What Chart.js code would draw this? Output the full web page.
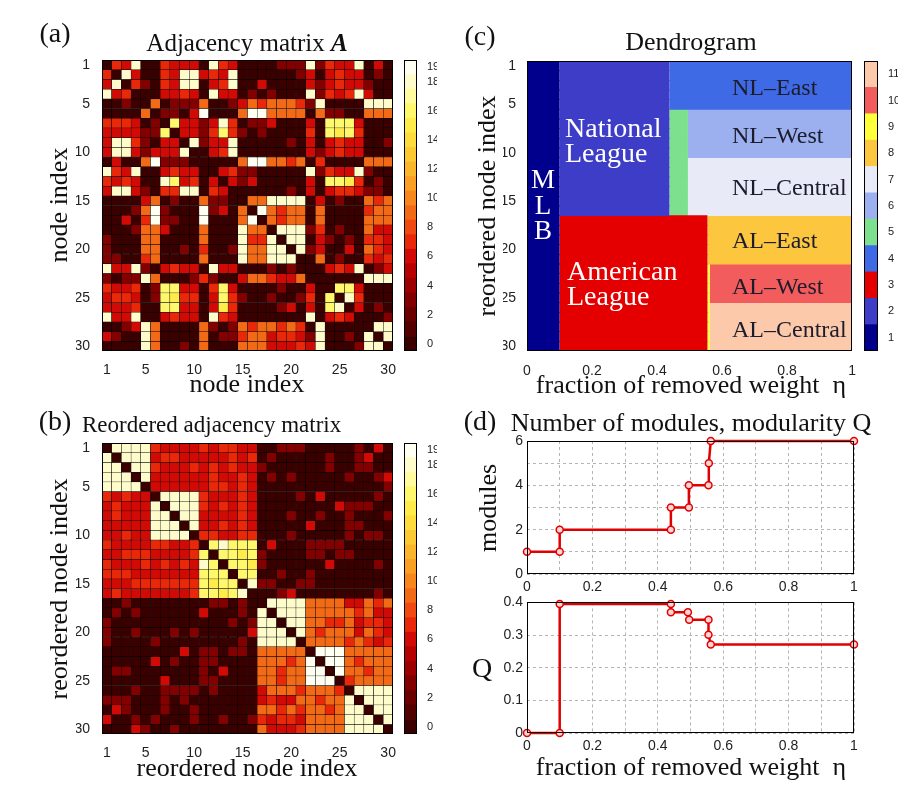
<!DOCTYPE html>
<html>
<head>
<meta charset="utf-8">
<script src="https://cdn.jsdelivr.net/npm/chart.js@4.4.0/dist/chart.umd.min.js"></script>
<style>
body { margin: 0; background: #fff; }
#fig { position: relative; width: 921px; height: 791px; overflow: hidden; font-family: 'Liberation Serif', 'Times New Roman', serif; color: #111; }
canvas { position: absolute; }
.t { position: absolute; white-space: nowrap; line-height: 1; transform: translate(-50%, -50%); }
.t.v { transform: translate(-50%, -50%) rotate(-90deg); }
.l { position: absolute; white-space: nowrap; line-height: 1; transform: translateY(-50%); }
</style>
</head>
<body>
<div id="fig">
  <canvas id="matA" width="400" height="400" style="left:0;top:0"></canvas>
  <canvas id="barA" width="40" height="400" style="left:400px;top:0"></canvas>
  <canvas id="matB" width="400" height="391" style="left:0;top:400px"></canvas>
  <canvas id="barB" width="40" height="391" style="left:400px;top:400px"></canvas>
  <canvas id="dendro" width="420" height="400" style="left:440px;top:0"></canvas>
  <canvas id="barC" width="61" height="400" style="left:860px;top:0"></canvas>
  <canvas id="mods" width="481" height="200" style="left:440px;top:400px"></canvas>
  <canvas id="modQ" width="481" height="201" style="left:440px;top:590px"></canvas>

  <div class="t" style="left:55px;top:33px;font-size:28px">(a)</div>
  <div class="t" style="left:247px;top:42px;font-size:25px">Adjacency matrix <b><i>A</i></b></div>
  <div class="t v" style="left:59px;top:205px;font-size:26px">node index</div>
  <div class="t" style="left:247px;top:384px;font-size:26px">node index</div>

  <div class="t" style="left:55px;top:421px;font-size:28px">(b)</div>
  <div class="l" style="left:82px;top:424px;font-size:23px">Reordered adjacency matrix</div>
  <div class="t v" style="left:59px;top:589px;font-size:26px">reordered node index</div>
  <div class="t" style="left:247px;top:768px;font-size:26px">reordered node index</div>

  <div class="t" style="left:480px;top:36px;font-size:28px">(c)</div>
  <div class="t" style="left:691px;top:42px;font-size:26px">Dendrogram</div>
  <div class="t v" style="left:487px;top:206px;font-size:26px">reordered node index</div>
  <div class="t" style="left:691px;top:385px;font-size:26px">fraction of removed weight&nbsp; η</div>

  <div class="t" style="left:543px;top:179px;font-size:27px;color:#fff">M</div>
  <div class="t" style="left:543px;top:205px;font-size:27px;color:#fff">L</div>
  <div class="t" style="left:543px;top:230px;font-size:27px;color:#fff">B</div>
  <div class="l" style="left:565px;top:128px;font-size:28px;color:#fff">National</div>
  <div class="l" style="left:565px;top:153px;font-size:28px;color:#fff">League</div>
  <div class="l" style="left:567px;top:271px;font-size:28px;color:#fff">American</div>
  <div class="l" style="left:567px;top:296px;font-size:28px;color:#fff">League</div>
  <div class="l" style="left:732px;top:87px;font-size:24px;color:#1c1c2c">NL–East</div>
  <div class="l" style="left:732px;top:135px;font-size:24px;color:#1c1c2c">NL–West</div>
  <div class="l" style="left:732px;top:187px;font-size:24px;color:#1c1c2c">NL–Central</div>
  <div class="l" style="left:732px;top:240px;font-size:24px;color:#1c1c2c">AL–East</div>
  <div class="l" style="left:732px;top:286px;font-size:24px;color:#1c1c2c">AL–West</div>
  <div class="l" style="left:732px;top:329px;font-size:24px;color:#1c1c2c">AL–Central</div>

  <div class="t" style="left:480px;top:421px;font-size:28px">(d)</div>
  <div class="t" style="left:691px;top:423px;font-size:26px">Number of modules, modularity Q</div>
  <div class="t v" style="left:488px;top:508px;font-size:26px">modules</div>
  <div class="t" style="left:482px;top:668px;font-size:28px">Q</div>
  <div class="t" style="left:691px;top:767px;font-size:26px">fraction of removed weight&nbsp; η</div>
</div>

<script>
// node numbers and the ones that get a tick label
const nodeIndex = Array.from({ length: 30 }, (_, i) => i + 1);
const nodeTicks = [1, 5, 10, 15, 20, 25, 30];

// adjacency matrix A, upper triangle only; row i lists columns i+1..30
// one base-36 digit per cell (0-9, a=10 ... j=19)
const adjUpper = [
    "76i0076660i760000333i3766i060",
    "i60076ii676i0000003606766030",
    "73076ii067i00600006367663" + "00",
    "0066760i660303000i3767i600",
    "90333900369799973i0000iii",
    "3306j0009jj9999093300999",
    "g6636i7033600060ggg6000",
    "6637g7303000070gfg7000",
    "i366i00000306067660" + "03",
    "067i0000000636766000",
    "0009jj9979070000999",
    "673300000i3766i300",
    "636000006" + "0ggf7030",
    "0000030606776330",
    "99iiii060300979",
    "j97990900007" + "99",
    "9799090000999",
    "iii370300966",
    "ii063030776",
    "i360060976",
    "090300767",
    "0676i036",
    "0000iii",
    "gg6000",
    "i7000",
    "6030",
    "003",
    "ii",
    "i"
];

// order of the nodes in panel (b): NL-East, NL-West, NL-Central, AL-East, AL-West, AL-Central
const reorder = [1, 4, 12, 22, 27, 2, 3, 9, 10, 14, 7, 8, 13, 24, 25, 26,
                 15, 18, 19, 20, 21, 6, 11, 16, 17, 5, 23, 28, 29, 30];

// colour for 0..19 games
const heatColors = ['#3a0000', '#520000', '#6a0000', '#830000', '#9c0000', '#b60202', '#d20a06',
                    '#e9280a', '#f04a10', '#f36a16', '#f7871c', '#f99f24', '#fbb52c', '#fcc934',
                    '#fedc3e', '#ffec4a', '#fff76c', '#fffb9e', '#fffccc', '#fffff2'];
const heatTicks = [0, 2, 4, 6, 8, 10, 12, 14, 16, 18, 19];

// dendrogram blocks (rows = reordered node index, x = fraction of removed weight)
const blockLevel = [1, 2, 3, 4, 5, 6, 7, 8, 9, 10, 11];
const blockFrom = [0, 0.1, 0.1, 0.438, 0.438, 0.495, 0.495, 0.555, 0.555, 0.562, 0.562];
const blockTo = [0.1, 0.438, 0.555, 1, 0.495, 1, 1, 1, 0.562, 1, 1];
const blockFirstRow = [1, 1, 17, 1, 6, 6, 11, 17, 22, 22, 26];
const blockLastRow = [30, 16, 30, 5, 16, 10, 16, 21, 30, 25, 30];
const dendroColors = ['#00008c', '#3d3dc8', '#e40000', '#3f6ae6', '#7ce08e', '#9cb0f0',
                      '#e8eaf8', '#fcc63e', '#ffff3a', '#f25c5c', '#fcc9aa'];
const dendroTicks = [1, 2, 3, 4, 5, 6, 7, 8, 9, 10, 11];

// panel (d)
const modX = [0, 0.1, 0.1, 0.44, 0.44, 0.495, 0.495, 0.555, 0.556, 0.562, 1];
const modY = [1, 1, 2, 2, 3, 3, 4, 4, 5, 6, 6];
const qX = [0, 0.1, 0.1, 0.44, 0.44, 0.492, 0.496, 0.555, 0.555, 0.562, 1];
const qY = [0, 0, 0.395, 0.395, 0.370, 0.370, 0.347, 0.347, 0.301, 0.271, 0.271];

// build symmetric matrices
const adj = nodeIndex.map(() => new Array(30).fill(0));
adjUpper.forEach((s, i) => {
    for (let k = 0; k < s.length && i + 1 + k < 30; k++) {
        const j = i + 1 + k;
        const v = parseInt(s[k], 36);
        adj[i][j] = v;
        adj[j][i] = v;
    }
});
const adjReordered = reorder.map(r => reorder.map(c => adj[r - 1][c - 1]));

const tickFont = { family: "'Liberation Sans', Arial, sans-serif", size: 14 };
const smallFont = { family: "'Liberation Sans', Arial, sans-serif", size: 11 };
const tickColor = '#222';
const red = '#e10000';

// black frame round the plot area
const boxPlugin = {
    id: 'box',
    afterDraw(chart) {
        const { ctx, chartArea: a } = chart;
        ctx.save();
        ctx.strokeStyle = '#000';
        ctx.lineWidth = 1;
        ctx.strokeRect(Math.round(a.left) + 0.5, Math.round(a.top) + 0.5,
                       Math.round(a.right - a.left) - 1, Math.round(a.bottom - a.top) - 1);
        ctx.restore();
    }
};

const baseOptions = (pad) => ({
    responsive: false,
    animation: false,
    events: [],
    layout: { padding: pad },
    plugins: { legend: { display: false }, tooltip: { enabled: false } }
});

const nodeLabel = (v, i) => nodeTicks.includes(i + 1) ? String(i + 1) : '';

function matrixChart(id, mat, pad) {
    new Chart(document.getElementById(id), {
        type: 'bar',
        data: {
            labels: nodeIndex,
            datasets: mat.map((row, i) => ({
                data: row.map(() => [i + 0.5, i + 1.5]),
                backgroundColor: row.map(v => heatColors[v]),
                borderColor: '#000',
                borderWidth: 0.5,
                borderSkipped: false,
                grouped: false,
                barPercentage: 1,
                categoryPercentage: 1
            }))
        },
        options: {
            ...baseOptions(pad),
            scales: {
                x: {
                    grid: { display: false },
                    border: { display: false },
                    ticks: { autoSkip: false, maxRotation: 0, padding: 3, font: tickFont, color: tickColor, callback: nodeLabel },
                    afterFit: s => { s.height = 24; }
                },
                y: {
                    type: 'linear',
                    reverse: true,
                    min: 0.5,
                    max: 30.5,
                    grid: { display: false },
                    border: { display: false },
                    afterBuildTicks: s => { s.ticks = nodeTicks.map(v => ({ value: v })); },
                    ticks: { padding: 4, font: tickFont, color: tickColor },
                    afterFit: s => { s.width = 26; }
                }
            }
        },
        plugins: [boxPlugin]
    });
}

function colorbarChart(id, colors, first, tickVals, pad) {
    new Chart(document.getElementById(id), {
        type: 'bar',
        data: {
            labels: [''],
            datasets: colors.map((c, k) => ({
                data: [[first + k - 0.5, first + k + 0.5]],
                backgroundColor: c,
                borderWidth: 0,
                grouped: false,
                barPercentage: 1,
                categoryPercentage: 1
            }))
        },
        options: {
            ...baseOptions(pad),
            scales: {
                x: { display: false },
                y: {
                    type: 'linear',
                    position: 'right',
                    min: first - 0.5,
                    max: first + colors.length - 0.5,
                    grid: { display: false },
                    border: { display: false },
                    afterBuildTicks: s => { s.ticks = tickVals.map(v => ({ value: v })); },
                    ticks: { padding: 2, font: smallFont, color: tickColor },
                    afterFit: s => { s.width = 20; }
                }
            }
        },
        plugins: [boxPlugin]
    });
}

// (a) and (b)
matrixChart('matA', adj, { left: 76, top: 60, right: 7, bottom: 25 });
colorbarChart('barA', heatColors, 0, heatTicks, { left: 4, top: 60, right: 3, bottom: 49 });
matrixChart('matB', adjReordered, { left: 76, top: 43, right: 7, bottom: 33 });
colorbarChart('barB', heatColors, 0, heatTicks, { left: 4, top: 43, right: 3, bottom: 57 });

// (c) dendrogram
new Chart(document.getElementById('dendro'), {
    type: 'bar',
    data: {
        labels: nodeIndex,
        datasets: blockLevel.map((lev, b) => ({
            data: nodeIndex.map(r => (r >= blockFirstRow[b] && r <= blockLastRow[b]) ? [blockFrom[b], blockTo[b]] : null),
            backgroundColor: dendroColors[lev - 1],
            borderWidth: 0,
            grouped: false,
            barPercentage: 1.08,
            categoryPercentage: 1
        }))
    },
    options: {
        ...baseOptions({ left: 63, top: 61, right: 5, bottom: 25 }),
        indexAxis: 'y',
        scales: {
            x: {
                type: 'linear',
                min: 0,
                max: 1,
                grid: { display: false },
                border: { display: false },
                ticks: { stepSize: 0.2, padding: 4, font: tickFont, color: tickColor,
                         callback: v => v === 0 ? '0' : v === 1 ? '1' : v.toFixed(1) },
                afterFit: s => { s.height = 24; }
            },
            y: {
                grid: { display: false },
                border: { display: false },
                ticks: { autoSkip: false, padding: 3, font: tickFont, color: tickColor, callback: nodeLabel },
                afterFit: s => { s.width = 24; }
            }
        }
    },
    plugins: [boxPlugin]
});
colorbarChart('barC', dendroColors, 1, dendroTicks, { left: 4, top: 61, right: 23, bottom: 49 });

// (d) modules and Q
function stepChart(id, xs, ys, yMax, yStep, yLabel, pad) {
    new Chart(document.getElementById(id), {
        type: 'scatter',
        data: {
            datasets: [{
                data: xs.map((x, k) => ({ x: x, y: ys[k] })),
                showLine: true,
                borderColor: red,
                borderWidth: 2.5,
                pointRadius: 3.5,
                pointBorderWidth: 1.5,
                pointBorderColor: red,
                pointBackgroundColor: '#ffd4d4',
                clip: false
            }]
        },
        options: {
            ...baseOptions(pad),
            scales: {
                x: {
                    type: 'linear',
                    min: 0,
                    max: 1,
                    grid: { color: '#b4b4b4', drawTicks: false },
                    border: { display: false, dash: [3, 3] },
                    ticks: { stepSize: 0.1, padding: 5, font: tickFont, color: tickColor,
                             callback: v => {
                                 const r = Math.round(v * 10);
                                 if (r % 2) return '';
                                 return r === 0 ? '0' : r === 10 ? '1' : (r / 10).toFixed(1);
                             } },
                    afterFit: s => { s.height = 22; }
                },
                y: {
                    min: 0,
                    max: yMax,
                    grid: { color: '#b4b4b4', drawTicks: false },
                    border: { display: false, dash: [3, 3] },
                    ticks: { stepSize: yStep, padding: 4, font: tickFont, color: tickColor, callback: yLabel },
                    afterFit: s => { s.width = 30; }
                }
            }
        },
        plugins: [boxPlugin]
    });
}

stepChart('mods', modX, modY, 6, 1, v => (Math.round(v) % 2 === 0 ? String(Math.round(v)) : ''),
          { left: 57, top: 41, right: 67, bottom: 4 });
stepChart('modQ', qX, qY, 0.4, 0.05, v => {
    const r = Math.round(v * 100);
    if (r % 10) return '';
    return r === 0 ? '0' : (r / 100).toFixed(1);
}, { left: 57, top: 11, right: 67, bottom: 36 });
</script>
</body>
</html>
